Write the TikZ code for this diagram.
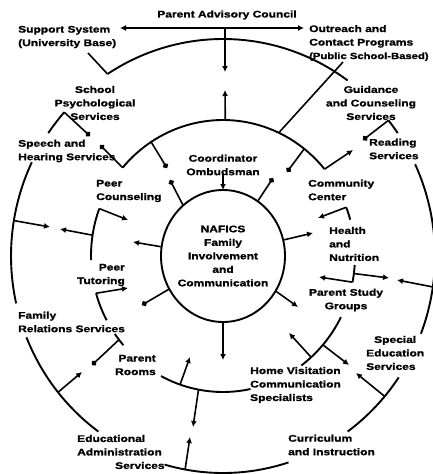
\documentclass[tikz,border=0pt]{standalone}
\usepackage{fontspec}
\setmainfont{Liberation Sans}[FakeStretch=1.25, BoldFeatures={FakeBold=1.3}]
\usetikzlibrary{arrows.meta}

\tikzset{
  lbl/.style={font=\bfseries\fontsize{9.6}{13.5}\selectfont, align=center, inner sep=0pt},
  ring/.style={line width=1.9pt},
  link/.style={line width=1.6pt},
  arr/.style={line width=1.6pt, -{Latex[length=6pt,width=6pt]}},
  dotarr/.style={line width=1.6pt, -{Circle[length=5.5pt]}},
}
\newcommand{\outerarc}[2]{\draw[ring] (C) ++(#1:212 and 217) arc[start angle=#1, end angle=#2, x radius=212, y radius=217];}
\newcommand{\midarc}[2]{\draw[ring] (C) ++(#1:132 and 136) arc[start angle=#1, end angle=#2, x radius=132, y radius=136];}

\begin{document}
\begin{tikzpicture}[x=1pt, y=-1pt]
\useasboundingbox (0,0) rectangle (432,474);
\coordinate (C) at (223,256);

% labels
\node[lbl] (council) at (227,15) {Parent Advisory Council};
\node[lbl, align=left, anchor=west] (support) at (18,37) {Support System\\(University Base)};
\node[lbl, align=left, anchor=west] (outreach) at (309,43) {Outreach and\\Contact Programs\\{\fontsize{9}{13.5}\selectfont(Public School-Based)}};
\node[lbl] (psych) at (95,103) {School\\Psychological\\Services};
\node[lbl, align=left, anchor=west] (speech) at (18,151) {Speech and\\Hearing Services};
\node[lbl] (coord) at (223,165) {Coordinator\\Ombudsman};
\node[lbl, align=left, anchor=west] (peercoun) at (96,191) {Peer\\Counseling};
\node[lbl] (guidance) at (371,103) {Guidance\\and Counseling\\Services};
\node[lbl, align=left, anchor=west] (reading) at (369,149) {Reading\\Services};
\node[lbl, align=left, anchor=west] (community) at (308,190) {Community\\Center};
\node[lbl] (nafics) at (223,256) {NAFICS\\Family\\Involvement\\and\\Communication};
\node[lbl, align=left, anchor=west] (health) at (329,244) {Health\\and\\Nutrition};
\node[lbl, align=right, anchor=east] (peertut) at (125,275) {Peer\\Tutoring};
\node[lbl, align=left, anchor=west] (family) at (18,322) {Family\\Relations Services};
\node[lbl, align=right, anchor=east] (rooms) at (156,365) {Parent\\Rooms};
\node[lbl] (study) at (346,300) {Parent Study\\Groups};
\node[lbl, align=left, anchor=west] (homevis) at (250,385) {Home Visitation\\Communication\\Specialists};
\node[lbl, align=left, anchor=west] (special) at (366,353) {\hspace*{8pt}Special\\Education\\Services};
\node[lbl, align=left, anchor=west] (edadmin) at (77,452) {Educational\\Administration\\\hspace*{38pt}Services};
\node[lbl, align=left, anchor=west] (curric) at (288,445) {Curriculum\\and Instruction};

% rings
\draw[ring] (C) ellipse [x radius=62, y radius=66];
\outerarc{-123}{-54}
\outerarc{-145.5}{-138.5}
\outerarc{167.4}{205.6}
\outerarc{126}{158}
\outerarc{72}{106}
\outerarc{34}{54}
\outerarc{-25}{21}
\outerarc{-38.7}{-34.5}
\midarc{-139.5}{-39.7}
\midarc{-21}{-15.5}
\midarc{3.8}{11.1}
\midarc{26.7}{53.6}
\midarc{78}{118}
\midarc{139}{145}
\midarc{151.8}{164.1}
\midarc{178.3}{200.4}

% points on the rings
\begin{scope}[shift={(223,256)}]
  \foreach \n/\a in {iA/-130, iB/-56, iC/188, iD/-14, iE/150, iF/32, iG/90, iT/-90}
    \coordinate (\n) at (\a:62 and 66);
  \foreach \n/\a in {mTop/-89, mA/-139.5, mB/-39.7, mC/-123, mD/-52, mE/-65, mF/-21, mG/7.4,
                     mH/11.1, mI/40.8, mJ/48.1, mK/100.7, mL/109, mM/142, mN/164.1, mO/188.8, mP/200.4}
    \coordinate (\n) at (\a:132 and 136);
  \foreach \n/\a in {oA/-123, oB/-138.5, oC/-38.7, oD/-170.6, oE/8.2, oF/141.1, oG/40.3, oH/100.3}
    \coordinate (\n) at (\a:212 and 217);
\end{scope}

% free ends
\coordinate (cL) at (120,28);
\coordinate (cR) at (304,28);
\coordinate (cD) at (225,28);
\coordinate (cDh) at (225,72);
\coordinate (sup) at (88,53);
\coordinate (outr) at (343,62);
\coordinate (hIA) at (170,180);
\coordinate (hIB) at (273,178);
\coordinate (hIC) at (133,242);
\coordinate (hID) at (313,233);
\coordinate (hIE) at (142,305);
\coordinate (hIF) at (298,307);
\coordinate (hIG) at (223,360);
\coordinate (hMtop) at (225,90);
\coordinate (hMA) at (100,145);
\coordinate (hMB) at (353,150);
\coordinate (hMC) at (167,168);
\coordinate (hMD) at (287,172);
\coordinate (hMF) at (318,218);
\coordinate (hMG) at (389,278);
\coordinate (hMH) at (319,277);
\coordinate (hMI) at (349,365);
\coordinate (hMJ) at (289,333);
\coordinate (hMK) at (193,427);
\coordinate (hML) at (190,357);
\coordinate (hMM) at (92,365);
\coordinate (hMN) at (128,288);
\coordinate (hMO) at (60,229);
\coordinate (hMP) at (128,220);
\coordinate (hOB) at (90,136);
\coordinate (hOC) at (363,140);
\coordinate (hOD) at (50,227);
\coordinate (hOE) at (397,280);
\coordinate (hOF) at (82,372);
\coordinate (hOG) at (356,373);
\coordinate (hOH) at (190,437);

% connectors
\draw[line width=1.6pt, {Latex[length=6pt,width=6pt]}-{Latex[length=6pt,width=6pt]}] (cL) -- (cR);
\draw[arr] (cD) -- (cDh);
\draw[link] (sup) -- (oA);
\draw[link] (mE) -- (outr);
\draw[arr] (coord.south) -- (iT);
\foreach \s/\e in {iA/hIA, iB/hIB, iE/hIE, mA/hMA, mC/hMC, mD/hMD, mM/hMM, oB/hOB, oC/hOC}
  \draw[dotarr] (\s) -- (\e);
\foreach \s/\e in {iC/hIC, iD/hID, iF/hIF, iG/hIG, mTop/hMtop, mB/hMB, mF/hMF, mG/hMG, mH/hMH,
                   mI/hMI, mJ/hMJ, mK/hMK, mL/hML, mN/hMN, mO/hMO, mP/hMP, oD/hOD, oE/hOE,
                   oF/hOF, oG/hOG, oH/hOH}
  \draw[arr] (\s) -- (\e);

\end{tikzpicture}
\end{document}
